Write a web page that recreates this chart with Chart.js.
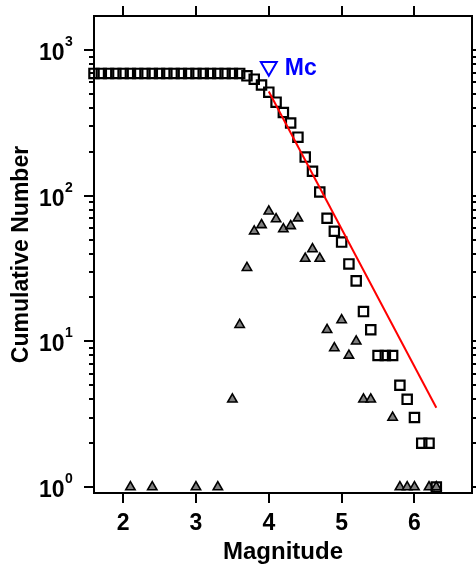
<!DOCTYPE html>
<html>
<head>
<meta charset="utf-8">
<script src="https://cdn.jsdelivr.net/npm/chart.js@4"></script>
<style>
  html, body { margin: 0; padding: 0; background: #fff; }
  #wrap { width: 476px; height: 564px; }
</style>
</head>
<body>
<div id="wrap"><canvas id="fmdChart" width="476" height="564"></canvas></div>
<script>
// magnitude bins (0.1 step) and cumulative number of events
const magnitudes = [1.6, 1.7, 1.8, 1.9, 2.0, 2.1, 2.2, 2.3, 2.4, 2.5, 2.6, 2.7, 2.8, 2.9, 3.0, 3.1,
    3.2, 3.3, 3.4, 3.5, 3.6, 3.7, 3.8, 3.9, 4.0, 4.1, 4.2, 4.3, 4.4, 4.5, 4.6, 4.7, 4.8, 4.9, 5.0,
    5.1, 5.2, 5.3, 5.4, 5.5, 5.6, 5.7, 5.8, 5.9, 6.0, 6.1, 6.2, 6.3];
const cumulative = [690, 690, 690, 690, 690, 690, 690, 690, 690, 690, 690, 690, 690, 690, 690, 690,
    690, 690, 690, 690, 690, 664, 630, 575, 513, 438, 372, 315, 252, 184, 147, 106, 70, 57, 48,
    34, 26, 16, 12, 8, 8, 8, 5, 4, 3, 2, 2, 1];

// non-cumulative counts per bin (triangles)
const binMagnitudes = [2.1, 2.4, 3.0, 3.3, 3.5, 3.6, 3.7, 3.8, 3.9, 4.0, 4.1, 4.2, 4.3, 4.4, 4.5,
    4.6, 4.7, 4.8, 4.9, 5.0, 5.1, 5.2, 5.3, 5.4, 5.7, 5.8, 5.9, 6.0, 6.2, 6.3];
const binCounts = [1, 1, 1, 1, 4, 13, 32, 57, 63, 78, 69, 59, 62, 70, 37, 43, 37, 12, 9, 14, 8, 10,
    4, 4, 3, 1, 1, 1, 1, 1];

// Gutenberg-Richter fit line and completeness magnitude
const fitMagnitudes = [4.0, 6.3];
const fitNumbers = [518, 3.5];
const mcMagnitude = [4.0];
const mcNumber = [770];

const xTickValues = [2, 3, 4, 5, 6];
const yDecades = [1, 10, 100, 1000];

const FONT = '"Liberation Sans", Arial, Helvetica, sans-serif';

function toPoints(xs, ys) {
    return xs.map((m, i) => ({ x: m, y: ys[i] }));
}

// frame, outward tick marks on all four sides, 10^n labels and the Mc text
const frameAndLabels = {
    id: 'frameAndLabels',
    afterDraw(chart) {
        const { ctx, chartArea: a, scales } = chart;
        const x = scales.x, y = scales.y;
        ctx.save();
        ctx.strokeStyle = '#000';
        ctx.lineWidth = 2;
        ctx.strokeRect(a.left, a.top, a.right - a.left, a.bottom - a.top);

        ctx.beginPath();
        xTickValues.forEach(v => {
            const px = Math.round(x.getPixelForValue(v));
            ctx.moveTo(px, a.bottom); ctx.lineTo(px, a.bottom + 10);
            ctx.moveTo(px, a.top); ctx.lineTo(px, a.top - 10);
        });
        y.ticks.forEach(t => {
            const py = Math.round(y.getPixelForValue(t.value));
            if (py < a.top || py > a.bottom) return;
            const len = yDecades.includes(t.value) ? 10 : 5;
            ctx.moveTo(a.left, py); ctx.lineTo(a.left - len, py);
            ctx.moveTo(a.right, py); ctx.lineTo(a.right + len, py);
        });
        ctx.stroke();

        ctx.fillStyle = '#000';
        yDecades.forEach((v, i) => {
            const py = y.getPixelForValue(v);
            ctx.font = 'bold 23px ' + FONT;
            ctx.textAlign = 'right';
            ctx.textBaseline = 'alphabetic';
            ctx.fillText('10', 64.5, py + 10);
            ctx.font = 'bold 14px ' + FONT;
            ctx.textAlign = 'left';
            ctx.fillText(String(i), 65, py - 4);
        });

        const mc = chart.getDatasetMeta(1).data[0];
        ctx.fillStyle = '#0000ff';
        ctx.font = 'bold 23px ' + FONT;
        ctx.textAlign = 'left';
        ctx.textBaseline = 'middle';
        ctx.fillText('Mc', mc.x + 16, mc.y + 2);
        ctx.restore();
    }
};

const ctx = document.getElementById('fmdChart').getContext('2d');
const fmdChart = new Chart(ctx, {
    type: 'scatter',
    data: {
        datasets: [
            {
                type: 'line',
                label: 'fit',
                data: toPoints(fitMagnitudes, fitNumbers),
                borderColor: '#ff0000',
                borderWidth: 2,
                pointRadius: 0,
                fill: false,
                clip: false
            },
            {
                label: 'Mc',
                data: toPoints(mcMagnitude, mcNumber),
                pointStyle: 'triangle',
                rotation: 180,
                pointRadius: 9.2,
                backgroundColor: 'rgba(0,0,0,0)',
                borderColor: '#0000ff',
                borderWidth: 2,
                clip: false
            },
            {
                label: 'Cumulative',
                data: toPoints(magnitudes, cumulative),
                pointStyle: 'rect',
                pointRadius: 6.6,
                backgroundColor: 'rgba(0,0,0,0)',
                borderColor: '#000',
                borderWidth: 2.2,
                clip: false
            },
            {
                label: 'Non-cumulative',
                data: toPoints(binMagnitudes, binCounts),
                pointStyle: 'triangle',
                pointRadius: 5.4,
                backgroundColor: '#7f7f7f',
                borderColor: '#000',
                borderWidth: 1.6,
                clip: false
            }
        ]
    },
    options: {
        responsive: false,
        animation: false,
        devicePixelRatio: 1,
        layout: { autoPadding: false, padding: { top: 16, right: 4, left: 0, bottom: 0 } },
        plugins: { legend: { display: false }, tooltip: { enabled: false } },
        scales: {
            x: {
                type: 'linear',
                position: 'bottom',
                min: 1.6,
                max: 6.79,
                grid: { display: false, drawTicks: false },
                border: { display: false },
                afterBuildTicks: scale => { scale.ticks = xTickValues.map(v => ({ value: v })); },
                afterFit: scale => {
                    scale.height = 71;
                    scale.paddingLeft = 0;
                    scale.paddingRight = 0;
                },
                ticks: {
                    color: '#000',
                    padding: 17,
                    maxRotation: 0,
                    font: { family: FONT, size: 23, weight: 'bold' },
                    callback: v => String(v)
                },
                title: {
                    display: true,
                    text: 'Magnitude',
                    color: '#000',
                    font: { family: FONT, size: 24, weight: 'bold', lineHeight: 1.0 },
                    padding: { top: 0, bottom: 0 }
                }
            },
            y: {
                type: 'logarithmic',
                position: 'left',
                min: 0.91,
                max: 1710,
                grid: { display: false, drawTicks: false },
                border: { display: false },
                afterBuildTicks: scale => {
                    const list = [];
                    [1, 10, 100, 1000].forEach(d => {
                        for (let k = 1; k <= 9; k++) list.push({ value: d * k });
                    });
                    scale.ticks = list;
                },
                afterFit: scale => {
                    scale.width = 94;
                    scale.paddingTop = 0;
                    scale.paddingBottom = 0;
                },
                ticks: { display: false },
                title: {
                    display: true,
                    text: 'Cumulative Number',
                    color: '#000',
                    font: { family: FONT, size: 23, weight: 'bold' },
                    padding: { top: 8, bottom: 0 }
                }
            }
        }
    },
    plugins: [frameAndLabels]
});
</script>
</body>
</html>
